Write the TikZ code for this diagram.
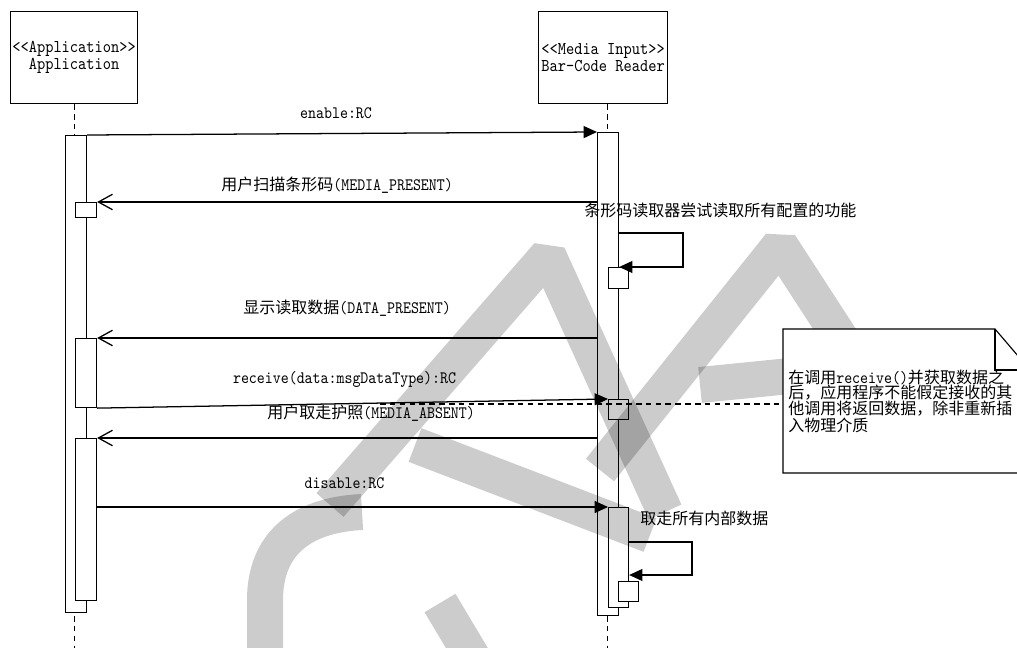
\documentclass[tikz,border=0pt]{standalone}
\usepackage{fontspec}
\newfontfamily\cjk{Noto Sans CJK SC}[Scale=0.918]
\newfontfamily\latmono{lmmono10-regular.otf}[FakeStretch=0.87]
\usetikzlibrary{arrows.meta, positioning}
\newcommand\pxu{0.025cm}

\begin{document}
\begin{tikzpicture}[
  x=0.025cm, y=-0.025cm,
  lifebox/.style={draw, fill=white, line width=0.8pt, inner sep=0pt, anchor=north west,
    minimum width=127*\pxu, minimum height=92*\pxu, align=center,
    font=\latmono\fontsize{12.8}{12.1}\selectfont},
  actbar/.style={draw, fill=white, line width=0.8pt, inner sep=0pt, anchor=north west, minimum width=21*\pxu},
  lifeline/.style={line width=0.8pt, dash pattern=on 4pt off 3pt},
  msg/.style={font=\latmono\fontsize{12.4}{12}\selectfont, inner sep=0pt},
  callarrow/.style={line width=0.9pt, -{Triangle[length=9.5pt, width=8.5pt]}},
  replyarrow/.style={line width=0.9pt, -{Straight Barb[length=10pt, width=11pt]}},
  selfnote/.style={font=\cjk\fontsize{12.4}{12}\selectfont, inner sep=0pt, anchor=west},
  watermark/.style={draw=gray!40, line width=36*\pxu, line join=bevel}
]
\useasboundingbox (0,0) rectangle (1017,648);
\clip (0,0) rectangle (1017,648);

% lifeline heads
\node[lifebox] (app) at (10,11) {<<Application>>\\Application};
\node[lifebox, minimum width=129*\pxu] (reader) at (538,11) {<<Media Input>>\\Bar-Code Reader};
\draw[lifeline] (app.south) -- (app.south |- 0,648);
\draw[lifeline] ([xshift=4.5*\pxu]reader.south) -- ([xshift=4.5*\pxu]reader.south |- 0,648);

% activation bars
\node[actbar, minimum height=477*\pxu] (appbar) at (65,135) {};
\node[actbar, minimum height=15*\pxu] (appbox) at (75,202) {};
\node[actbar, minimum height=69*\pxu] (appact2) at (75,338) {};
\node[actbar, minimum height=162*\pxu] (appact3) at (75,438) {};
\node[actbar, minimum height=483*\pxu] (rdbar) at (597,132) {};
\node[actbar, minimum width=20*\pxu, minimum height=21*\pxu] (rdbox1) at (608,267) {};
\node[actbar, minimum width=20*\pxu, minimum height=20*\pxu] (rdbox2) at (608,399) {};
\node[actbar, minimum width=20*\pxu, minimum height=100*\pxu] (rdact3) at (608,507) {};
\node[actbar, minimum width=20*\pxu, minimum height=20*\pxu] (rdbox3) at (618,581) {};

% messages
\draw[callarrow] (appbar.north east) -- node[msg, xshift=-6*\pxu, yshift=20*\pxu] {enable:RC} (rdbar.north west);
\draw[replyarrow] (rdbar.west |- appbox.north) -- node[msg, xshift=-10*\pxu, yshift=17*\pxu] {{\cjk 用户扫描条形码}(MEDIA\_PRESENT)} (appbox.north east);
\draw[replyarrow] (rdbar.west |- appact2.north) -- node[msg, yshift=30*\pxu] {{\cjk 显示读取数据}(DATA\_PRESENT)} (appact2.north east);
\draw[callarrow] (appact2.south east) -- node[msg, xshift=-8*\pxu, yshift=24*\pxu] {receive(data:msgDataType):RC} (rdbox2.north west);
\draw[replyarrow] (rdbar.west |- appact3.north) -- node[msg, xshift=24*\pxu, yshift=25*\pxu] {{\cjk 用户取走护照}(MEDIA\_ABSENT)} (appact3.north east);
\draw[callarrow] (appact3.east |- rdact3.north) -- node[msg, xshift=-8*\pxu, yshift=24*\pxu] {disable:RC} (rdact3.north west);

% self calls
\coordinate (loopa) at (683,233);
\draw[callarrow] (rdbar.east |- loopa) -| (loopa |- rdbox1.north) -- (rdbar.east |- rdbox1.north);
\node[selfnote] (selfa) at (584,210) {条形码读取器尝试读取所有配置的功能};
\coordinate (loopb) at (692,542);
\coordinate (loopbend) at (692,575);
\draw[callarrow] (rdact3.east |- loopb) -| (loopbend) -- (rdact3.east |- loopbend);
\node[selfnote] (selfb) at (640,518) {取走所有内部数据};

% note anchor
\coordinate (memonw) at (783,329);
\coordinate (anchorpt) at (380,404);
\draw[lifeline] (anchorpt) -- (anchorpt -| memonw);

% watermark
\begin{scope}[blend mode=multiply]
  \draw[watermark] (362,512) .. controls (300,515) and (265,545) .. (265,600) -- (265,660);
  \draw[watermark] (330,505) -- (548,255) -- (665,512);
  \draw[watermark] (415,445) -- (650,535);
  \draw[watermark] (440,603) -- (474,660);
  \draw[watermark] (600,470) -- (780,245) -- (900,430);
  \draw[watermark] (700,385) -- (800,375);
\end{scope}

% note
\draw[line width=0.8pt, fill=white] (memonw) -- ([xshift=212*\pxu]memonw) -- ([xshift=247*\pxu, yshift=-41*\pxu]memonw)
  -- ([xshift=247*\pxu, yshift=-144*\pxu]memonw) -- ([yshift=-144*\pxu]memonw) -- cycle;
\draw[line width=0.8pt] ([xshift=212*\pxu]memonw) -- ([xshift=212*\pxu, yshift=-41*\pxu]memonw) -- ([xshift=247*\pxu, yshift=-41*\pxu]memonw);
\node[anchor=north west, minimum width=247*\pxu, minimum height=144*\pxu, inner sep=0pt, text width=237*\pxu, align=left,
  font=\latmono\fontsize{12.4}{10.7}\selectfont] (memo) at (memonw)
  {{\cjk 在调用}receive(){\cjk 并获取数据之}\\{\cjk 后，应用程序不能假定接收的其}\\{\cjk 他调用将返回数据，除非重新插}\\{\cjk 入物理介质}};
\end{tikzpicture}
\end{document}
